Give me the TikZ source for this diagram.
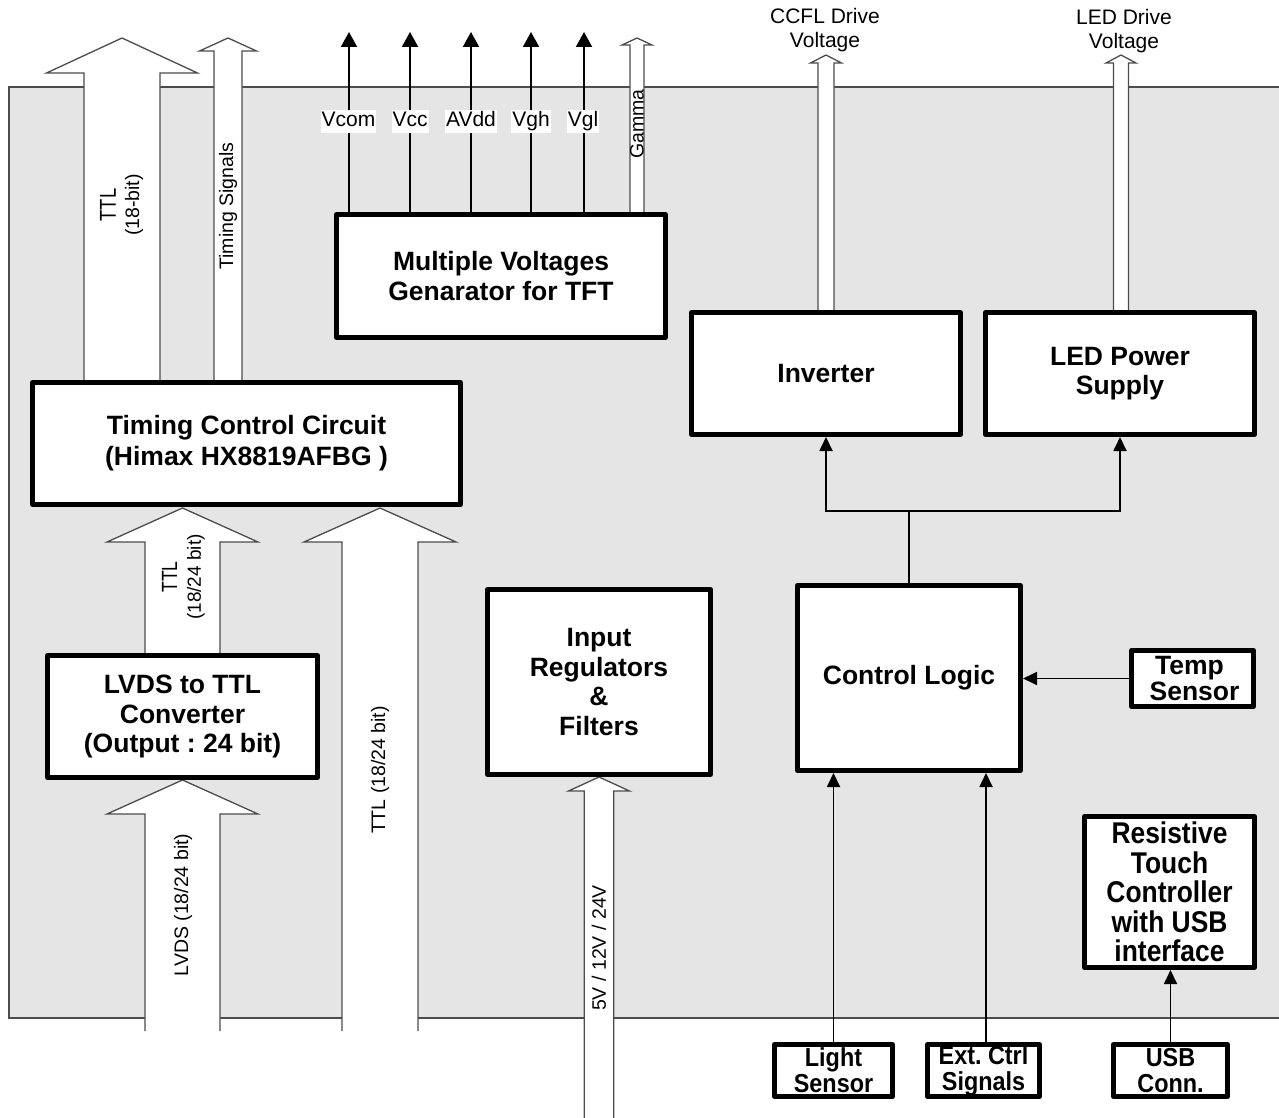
\documentclass[tikz,border=0pt]{standalone}
\usepackage{fontspec}
\setmainfont{Liberation Sans}
\newfontfamily\condf[FakeStretch=0.9]{Liberation Sans}
\newfontfamily\condt[FakeStretch=0.88]{Liberation Sans}
\newfontfamily\condl[FakeStretch=0.8]{Liberation Sans}
\usetikzlibrary{arrows.meta}
\definecolor{bggray}{gray}{0.9}
\definecolor{edgegray}{gray}{0.3}
\definecolor{arrgray}{gray}{0.3}
\newcommand{\blkarrow}[6]{%
  \fill[white] ({#1-#5},#4) -- ({#1-#5},#3) -- ({#1-#6},#3) -- (#1,#2) -- ({#1+#6},#3) -- ({#1+#5},#3) -- ({#1+#5},#4) -- cycle;
  \draw[barr] ({#1-#5},#4) -- ({#1-#5},#3) -- ({#1-#6},#3) -- (#1,#2) -- ({#1+#6},#3) -- ({#1+#5},#3) -- ({#1+#5},#4);}
\tikzset{
  barr/.style={draw=arrgray, line width=1.3pt, line join=miter},
  box/.style={draw, line width=5pt, fill=white, align=center, line join=round,
    font=\bfseries\fontsize{26.5}{29.5}\selectfont, inner sep=0pt},
  sbox/.style={box, font=\condf\bfseries\fontsize{26}{26}\selectfont},
  lab/.style={fill=white, inner xsep=1pt, inner ysep=1.5pt, text height=15.5pt, text depth=4.5pt,
    font=\fontsize{21}{24}\selectfont},
  rlab/.style={rotate=90, inner sep=0pt, font=\fontsize{19.5}{22}\selectfont},
  toplab/.style={align=center, inner sep=0pt, font=\fontsize{21}{23.5}\selectfont},
  conn/.style={line width=1.8pt, -{Triangle[length=14pt,width=13pt]}},
  vconn/.style={line width=2pt, -{Triangle[length=15pt,width=16pt]}}
}
\begin{document}
\frenchspacing
\begin{tikzpicture}[x=1pt,y=-1pt]
\useasboundingbox (0,0) rectangle (1279,1118);
% background panel
\fill[bggray] (9,87) rectangle (1279,1018);
\draw[line width=1.2pt, edgegray] (1279,87) -- (9,87) -- (9,1018) -- (1279,1018);

% block arrows
\blkarrow{122}{38}{73}{380}{38}{75.5}
\blkarrow{228}{38}{51}{380}{14}{28.5}
\blkarrow{637}{38}{45}{212}{7}{15}
\blkarrow{826}{55}{63}{310}{8}{15.5}
\blkarrow{1121}{55}{63}{310}{7.5}{15}
\blkarrow{182.5}{508}{542}{653}{37.5}{75.5}
\blkarrow{380}{508}{542}{1031}{38}{76}
\blkarrow{182.5}{780}{814}{1031}{37.5}{75.5}
\blkarrow{599}{777}{791}{1118}{14.7}{30.5}

% labels on block arrows
\node[rotate=90, inner sep=0pt, font=\condl\fontsize{23}{26}\selectfont] (lttl) at (108,205) {TTL};
\node[rlab, font=\fontsize{19.5}{22}\selectfont] (l18) at (134,205) {(18-bit)};
\node[rlab] (lts) at (228,206) {Timing Signals};
\node[rlab] (lgam) at (637,124) {Gamma};
\node[rotate=90, inner sep=0pt, font=\condl\fontsize{22}{26}\selectfont] (lttl2) at (169.5,577) {TTL};
\node[rlab, font=\fontsize{19}{22}\selectfont] (l1824) at (196,577) {(18/24 bit)};
\node[rlab] (lttl3) at (380,770) {TTL (18/24 bit)};
\node[rlab] (llvds) at (183,905) {LVDS (18/24 bit)};
\node[rlab] (lpow) at (599,948) {5V / 12V / 24V};
\node[toplab] (lccfl) at (825,30) {CCFL Drive\\Voltage};
\node[toplab] (lled) at (1124,31) {LED Drive\\Voltage};

% boxes
\node[box, minimum width=428pt, minimum height=122pt] (tcc) at (246.5,443.5) {Timing Control Circuit\\[1.5pt](Himax HX8819AFBG )};
\node[box, minimum width=329pt, minimum height=123pt] (mvg) at (501,276) {Multiple Voltages\\Genarator for TFT};
\node[box, minimum width=269pt, minimum height=122pt] (inv) at (826,373.5) {Inverter};
\node[box, minimum width=269pt, minimum height=122pt] (led) at (1120,373.5) {LED Power\\Supply};
\node[box, minimum width=270pt, minimum height=122pt] (lvds) at (182.5,716.5) {LVDS to TTL\\Converter\\(Output : 24 bit)};
\node[box, minimum width=223pt, minimum height=185pt] (inp) at (599,682) {Input\\Regulators\\\&\\Filters};
\node[box, minimum width=223pt, minimum height=185pt] (ctrl) at (909,678) {Control Logic};
\node[box, minimum width=122pt, minimum height=56pt, font=\bfseries\fontsize{26.5}{26}\selectfont] (temp) at (1192.5,678.5) {\hspace*{-6pt}Temp\\\hspace*{4pt}Sensor};
\node[box, minimum width=170pt, minimum height=151pt, font=\condt\bfseries\fontsize{30}{29.5}\selectfont] (touch) at (1169.5,892) {Resistive\\Touch\\Controller\\with USB\\interface};
\node[sbox, minimum width=118pt, minimum height=52pt] (light) at (833.5,1070.5) {Light\\Sensor};
\node[sbox, minimum width=112pt, minimum height=52pt] (ext) at (983.5,1070.5) {Ext. Ctrl\\Signals};
\node[sbox, minimum width=114pt, minimum height=52pt] (usb) at (1170.5,1070.5) {USB\\Conn.};

% voltage outputs
\coordinate (tvcom) at (349,32);
\coordinate (tvcc) at (410,32);
\coordinate (tavdd) at (471,32);
\coordinate (tvgh) at (531,32);
\coordinate (tvgl) at (584,32);
\draw[vconn] (tvcom |- mvg.north) -- (tvcom);
\draw[vconn] (tvcc |- mvg.north) -- (tvcc);
\draw[vconn] (tavdd |- mvg.north) -- (tavdd);
\draw[vconn] (tvgh |- mvg.north) -- (tvgh);
\draw[vconn] (tvgl |- mvg.north) -- (tvgl);
\node[lab] (lvcom) at (348.5,121.5) {Vcom};
\node[lab] (lvcc) at (410,121.5) {Vcc};
\node[lab] (lavdd) at (471,121.5) {AVdd};
\node[lab] (lvgh) at (531,121.5) {Vgh};
\node[lab] (lvgl) at (583,121.5) {Vgl};

% control connections
\coordinate (jn) at (909,511);
\draw[line width=1.8pt, {Triangle[length=14pt,width=13pt]}-{Triangle[length=14pt,width=13pt]}]
  (inv.south) |- (jn) -| (led.south);
\draw[line width=1.8pt] (ctrl.north) -- (jn);
\draw[conn] (temp.west) -- (temp.west -| ctrl.east);
\draw[conn] (light.north) -- (light.north |- ctrl.south);
\draw[conn] ([xshift=2.5pt]ext.north) -- ([xshift=2.5pt]ext.north |- ctrl.south);
\draw[conn] (usb.north) -- (usb.north |- touch.south);
\end{tikzpicture}
\end{document}
